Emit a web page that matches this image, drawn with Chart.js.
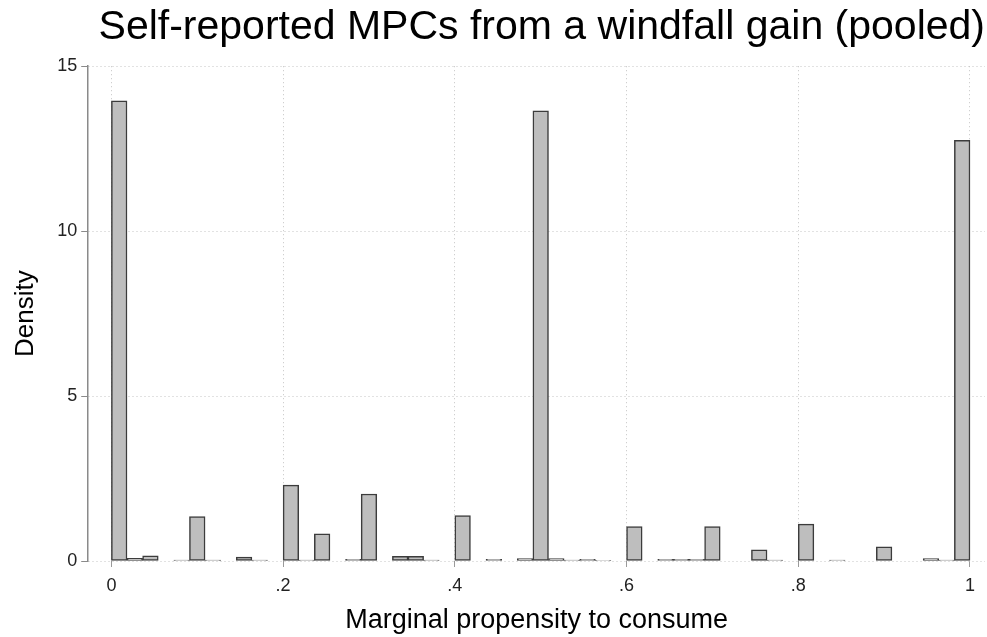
<!DOCTYPE html>
<html>
<head>
<meta charset="utf-8">
<script src="https://cdn.jsdelivr.net/npm/chart.js@4"></script>
<style>
  html, body { margin: 0; padding: 0; background: #fff; }
  #wrap { width: 987px; height: 637px; position: relative; }
</style>
</head>
<body>
<div id="wrap"><canvas id="mpc-chart"></canvas></div>
<script>
// histogram of self-reported MPCs, 55 equal bins over [0, 1]
const binCount = 55;
const densities = [
    13.95, 0.08, 0.16, null, 0.03, 1.35, 0.03, null, 0.12, 0.03,
    null, 2.3, 0.03, 0.82, null, 0.05, 2.03, null, 0.14, 0.14,
    0.03, null, 1.38, null, 0.05, null, 0.07, 13.65, 0.07, 0.03,
    0.05, 0.02, null, 1.04, null, 0.05, 0.05, 0.05, 1.04, null,
    null, 0.34, 0.03, null, 1.12, null, 0.03, null, null, 0.43,
    null, null, 0.07, 0.03, 12.75
];
const xTickValues = [0, 0.2, 0.4, 0.6, 0.8, 1];
const xTickLabels = ['0', '.2', '.4', '.6', '.8', '1'];
const yTickValues = [0, 5, 10, 15];

const canvas = document.getElementById('mpc-chart');
const font_family = "'Liberation Sans', Arial, Helvetica, sans-serif";

const bars = densities.map((d, k) => {
    return { x: (k + 0.5) / binCount, y: d };
});

const chart = new Chart(canvas, {
    type: 'bar',
    data: {
        datasets: [{
            data: bars,
            backgroundColor: '#bebebe',
            borderColor: '#3c3c3c',
            borderWidth: 1.5,
            borderSkipped: false,
            barPercentage: 1,
            categoryPercentage: 1,
            grouped: false
        }]
    },
    options: {
        responsive: true,
        maintainAspectRatio: false,
        animation: false,
        layout: { padding: { left: 10, right: 2, top: 0, bottom: 0 } },
        plugins: {
            legend: { display: false },
            tooltip: { enabled: false },
            title: {
                display: true,
                align: 'end',
                text: 'Self-reported MPCs from a windfall gain (pooled)',
                color: '#000',
                font: { family: font_family, size: 41, weight: 'normal' },
                padding: { top: 3, bottom: 14 }
            }
        },
        scales: {
            x: {
                type: 'linear',
                offset: false,
                min: -0.027,
                max: 1.0175,
                afterBuildTicks: (axis) => {
                    axis.ticks = xTickValues.map(v => ({ value: v }));
                },
                ticks: {
                    autoSkip: false,
                    maxRotation: 0,
                    color: '#222',
                    padding: 8,
                    font: { family: font_family, size: 18 },
                    callback: (value) => {
                        const i = xTickValues.indexOf(value);
                        return i >= 0 ? xTickLabels[i] : '';
                    }
                },
                grid: {
                    color: '#c4c4c4',
                    lineWidth: 1,
                    drawTicks: true,
                    tickLength: 6,
                    tickColor: '#9a9a9a',
                    tickBorderDash: [],
                    offset: false
                },
                border: { display: false, dash: [1, 3] },
                title: {
                    display: true,
                    text: 'Marginal propensity to consume',
                    color: '#000',
                    font: { family: font_family, size: 27 },
                    padding: { top: 0, bottom: 0 }
                }
            },
            y: {
                min: 0,
                max: 15,
                afterBuildTicks: (axis) => {
                    axis.ticks = yTickValues.map(v => ({ value: v }));
                },
                ticks: {
                    color: '#222',
                    padding: 4,
                    font: { family: font_family, size: 18 }
                },
                grid: {
                    color: '#c4c4c4',
                    lineWidth: 1,
                    drawTicks: true,
                    tickLength: 7,
                    tickColor: '#8a8a8a',
                    tickBorderDash: []
                },
                border: { display: true, color: '#8a8a8a', width: 1.5, dash: [1, 3] },
                title: {
                    display: true,
                    text: 'Density',
                    color: '#000',
                    font: { family: font_family, size: 26 },
                    padding: { top: 0, bottom: 12 }
                }
            }
        }
    }
});
</script>
</body>
</html>
